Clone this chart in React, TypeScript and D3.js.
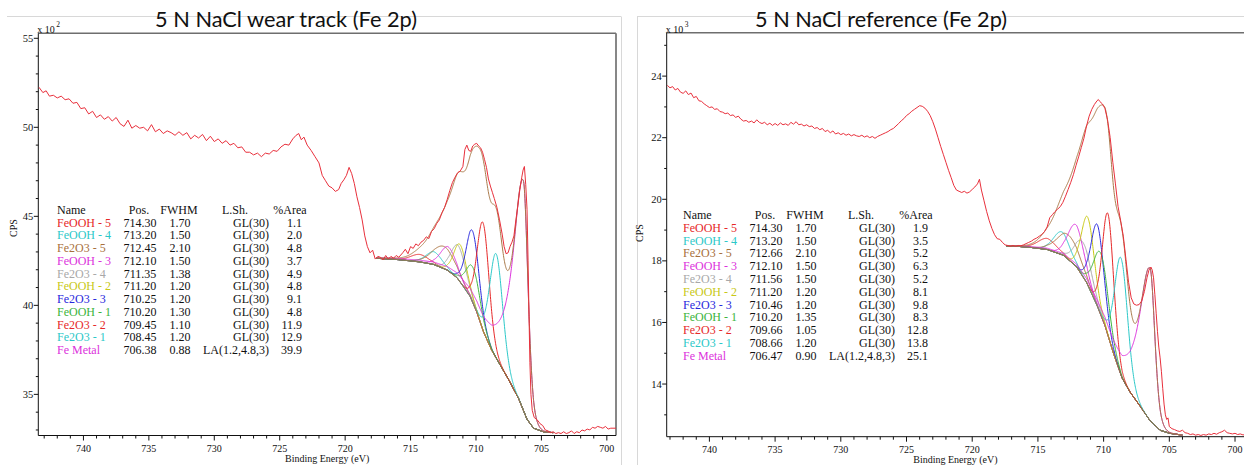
import React from "react";
import * as d3 from "d3";

// fit components, same order and colours in both tables
const peakNames = [
  "FeOOH - 5", "FeOOH - 4", "Fe2O3 - 5", "FeOOH - 3", "Fe2O3 - 4", "FeOOH - 2",
  "Fe2O3 - 3", "FeOOH - 1", "Fe2O3 - 2", "Fe2O3 - 1", "Fe Metal",
];
const peakColors = [
  "#e62828", "#2cc8c8", "#a8703c", "#dc32dc", "#a8a8a8", "#c8c814",
  "#2828dc", "#3cb43c", "#e62828", "#2cc8c8", "#dc32dc",
];
const lineShapes = [
  "GL(30)", "GL(30)", "GL(30)", "GL(30)", "GL(30)", "GL(30)",
  "GL(30)", "GL(30)", "GL(30)", "GL(30)", "LA(1.2,4.8,3)",
];

// wear track fit (CPS x 10^2)
const wearPos = [714.3, 713.2, 712.45, 712.1, 711.35, 711.2, 710.25, 710.2, 709.45, 708.45, 706.38];
const wearFwhm = [1.7, 1.5, 2.1, 1.5, 1.38, 1.2, 1.2, 1.3, 1.1, 1.2, 0.88];
const wearArea = [1.1, 2.0, 4.8, 3.7, 4.9, 4.8, 9.1, 4.8, 11.9, 12.9, 39.9];
// peak heights above background
const wearHeight = [0.42, 0.72, 1.25, 1.35, 1.9, 2.1, 4.0, 2.0, 6.05, 5.85, 12.9];

// reference fit (CPS x 10^3)
const refPos = [714.3, 713.2, 712.66, 712.1, 711.56, 711.2, 710.46, 710.2, 709.66, 708.66, 706.47];
const refFwhm = [1.7, 1.5, 2.1, 1.5, 1.5, 1.2, 1.2, 1.35, 1.05, 1.2, 0.9];
const refArea = [1.9, 3.5, 5.2, 6.3, 5.2, 8.1, 9.8, 8.3, 12.8, 13.8, 25.1];
const refHeight = [0.36, 0.74, 0.8, 1.35, 1.12, 2.2, 2.65, 2.0, 3.95, 3.8, 4.95];

// shirley backgrounds [BE, CPS]
const wearBg: [number, number][] = [
  [717.6, 42.64], [716.5, 42.6], [715.8, 42.56], [714.3, 42.44], [713.25, 42.3],
  [712.2, 41.98], [711.45, 41.55], [710.96, 41.05], [710.45, 40.5], [709.94, 39.62],
  [709.43, 38.52], [708.8, 37.48], [708.15, 36.65], [707.5, 35.82], [706.75, 34.78],
  [706.1, 33.6], [705.6, 33.1], [704.85, 32.9], [704.1, 32.85],
];
const refBg: [number, number][] = [
  [717.4, 18.48], [716.5, 18.47], [715.6, 18.44], [714.3, 18.37], [713.05, 18.18],
  [712.05, 17.8], [711.3, 17.3], [710.5, 16.55], [709.9, 15.9], [709.25, 15.0],
  [708.6, 14.2], [707.99, 13.74], [707.2, 13.27], [706.5, 12.83], [705.7, 12.5],
  [704.97, 12.4], [704.0, 12.34],
];

// measured spectra [BE, CPS]
const wearRaw: [number, number][] = [
  [743.4, 52.25], [743.1, 51.95], [742.85, 52.05], [742.6, 51.75], [742.3, 51.8], [742.0, 51.65],
  [741.7, 51.75], [741.4, 51.55], [741.1, 51.6], [740.8, 51.35], [740.5, 51.4], [740.2, 51.05],
  [739.9, 51.1], [739.6, 50.75], [739.3, 50.9], [739.0, 50.55], [738.7, 50.7], [738.4, 50.45],
  [738.1, 50.6], [737.8, 50.35], [737.5, 50.55], [737.2, 50.2], [736.9, 50.05], [736.6, 50.4],
  [736.3, 49.95], [736.0, 50.1], [735.7, 49.95], [735.4, 50.0], [735.1, 49.8], [734.8, 50.15],
  [734.5, 49.75], [734.2, 49.9], [733.9, 49.65], [733.6, 49.8], [733.3, 49.7], [733.0, 49.55],
  [732.7, 49.75], [732.4, 49.55], [732.1, 49.7], [731.8, 49.35], [731.5, 49.55], [731.2, 49.4],
  [730.9, 49.6], [730.6, 49.25], [730.3, 49.5], [730.0, 49.2], [729.7, 49.35], [729.4, 49.1],
  [729.1, 49.25], [728.8, 49.0], [728.5, 49.1], [728.2, 48.85], [727.9, 48.9], [727.6, 48.6],
  [727.3, 48.6], [727.0, 48.45], [726.7, 48.55], [726.4, 48.35], [726.1, 48.55], [725.8, 48.5],
  [725.5, 48.7], [725.2, 48.65], [724.9, 48.9], [724.6, 49.05], [724.3, 49.0], [724.0, 49.35],
  [723.75, 49.55], [723.55, 49.65], [723.35, 49.3], [723.15, 49.45], [722.9, 49.0], [722.6, 48.7],
  [722.3, 48.35], [722.0, 48.0], [721.75, 47.3], [721.5, 47.0], [721.25, 46.7], [721.0, 46.6],
  [720.75, 46.4], [720.5, 46.5], [720.3, 46.85], [720.1, 47.05], [719.9, 47.3], [719.7, 47.75],
  [719.5, 47.4], [719.3, 46.85], [719.1, 46.1], [718.9, 45.5], [718.7, 44.8], [718.5, 43.9],
  [718.3, 43.3], [718.1, 42.95], [717.9, 43.1], [717.7, 42.6], [717.5, 42.75], [717.3, 42.7],
  [717.1, 42.55], [716.9, 42.8], [716.7, 42.6], [716.5, 42.75], [716.3, 42.65], [716.1, 42.8],
  [715.9, 42.7], [715.6, 42.95], [715.4, 43.15], [715.2, 42.9], [715.0, 43.3], [714.8, 43.2],
  [714.6, 43.45], [714.4, 43.35], [714.2, 43.55], [714.0, 43.65], [713.8, 43.85], [713.6, 43.75],
  [713.4, 44.15], [713.2, 44.3], [713.0, 44.6], [712.8, 44.8], [712.6, 45.2], [712.4, 45.5],
  [712.2, 45.95], [712.0, 46.45], [711.8, 46.9], [711.6, 47.2], [711.4, 47.45], [711.2, 47.55],
  [711.0, 47.8], [710.85, 48.75], [710.7, 49.0], [710.55, 48.7], [710.4, 48.65], [710.25, 48.95],
  [710.1, 49.05], [709.95, 49.1], [709.8, 48.95], [709.65, 48.85], [709.5, 48.6], [709.35, 48.2],
  [709.2, 47.75], [709.05, 47.1], [708.9, 46.7], [708.75, 46.35], [708.6, 46.0], [708.4, 45.5],
  [708.2, 44.8], [708.0, 44.0], [707.85, 43.3], [707.7, 42.9], [707.55, 42.95], [707.4, 43.3],
  [707.25, 43.55], [707.1, 43.9], [706.95, 44.8], [706.8, 45.6], [706.65, 46.5], [706.5, 47.2],
  [706.4, 47.6], [706.3, 47.8], [706.2, 46.8], [706.1, 45.4], [706.02, 42.5], [705.95, 39.5],
  [705.88, 36.8], [705.8, 35.0], [705.7, 34.1], [705.55, 33.7], [705.3, 33.55], [705.1, 33.35],
  [704.9, 33.25], [704.7, 33.0], [704.5, 32.95], [704.3, 32.85], [704.1, 32.9], [703.9, 32.8],
  [703.7, 32.85], [703.5, 32.8], [703.3, 32.9], [703.1, 32.8], [702.9, 32.85], [702.7, 32.95],
  [702.5, 32.8], [702.3, 32.9], [702.1, 32.85], [701.9, 33.0], [701.7, 32.95], [701.5, 33.05],
  [701.3, 33.0], [701.1, 33.15], [700.9, 33.1], [700.7, 33.2], [700.5, 33.15], [700.3, 33.1],
  [700.1, 33.2], [699.9, 33.05], [699.7, 33.1], [699.3, 33.1],
];
const refRaw: [number, number][] = [
  [743.2, 23.7], [743.0, 23.62], [742.8, 23.66], [742.6, 23.55], [742.4, 23.6], [742.2, 23.48],
  [742.0, 23.44], [741.8, 23.52], [741.6, 23.4], [741.4, 23.45], [741.2, 23.3], [741.0, 23.34],
  [740.8, 23.2], [740.6, 23.18], [740.4, 23.1], [740.2, 23.04], [740.0, 22.98], [739.8, 23.0],
  [739.6, 22.92], [739.4, 22.94], [739.2, 22.85], [739.0, 22.83], [738.8, 22.78], [738.6, 22.8],
  [738.4, 22.72], [738.2, 22.74], [738.0, 22.66], [737.8, 22.7], [737.6, 22.6], [737.4, 22.54],
  [737.2, 22.56], [737.0, 22.5], [736.8, 22.54], [736.6, 22.48], [736.4, 22.58], [736.2, 22.5],
  [736.0, 22.46], [735.8, 22.5], [735.6, 22.42], [735.4, 22.47], [735.2, 22.4], [735.0, 22.46],
  [734.8, 22.4], [734.6, 22.48], [734.4, 22.42], [734.2, 22.45], [734.0, 22.4], [733.8, 22.5],
  [733.6, 22.44], [733.4, 22.52], [733.2, 22.42], [733.0, 22.44], [732.8, 22.38], [732.6, 22.42],
  [732.4, 22.36], [732.2, 22.38], [732.0, 22.3], [731.8, 22.33], [731.6, 22.26], [731.4, 22.3],
  [731.2, 22.2], [731.0, 22.24], [730.8, 22.16], [730.6, 22.22], [730.4, 22.12], [730.2, 22.16],
  [730.0, 22.1], [729.8, 22.14], [729.6, 22.08], [729.4, 22.12], [729.2, 22.06], [729.0, 22.1],
  [728.8, 22.06], [728.6, 22.04], [728.4, 22.08], [728.2, 22.02], [728.0, 22.06], [727.8, 22.0],
  [727.6, 22.04], [727.4, 21.98], [727.2, 22.04], [727.0, 22.08], [726.8, 22.12], [726.6, 22.16],
  [726.4, 22.2], [726.2, 22.26], [726.0, 22.3], [725.8, 22.38], [725.6, 22.46], [725.4, 22.55],
  [725.2, 22.62], [725.0, 22.72], [724.8, 22.78], [724.6, 22.86], [724.4, 22.92], [724.2, 22.98],
  [724.0, 23.04], [723.8, 23.02], [723.6, 22.96], [723.4, 22.86], [723.2, 22.72], [723.0, 22.52],
  [722.8, 22.28], [722.6, 22.0], [722.4, 21.72], [722.2, 21.46], [722.0, 21.2], [721.8, 20.94],
  [721.6, 20.7], [721.4, 20.45], [721.2, 20.3], [721.0, 20.26], [720.8, 20.22], [720.6, 20.26],
  [720.4, 20.2], [720.2, 20.24], [720.0, 20.32], [719.8, 20.4], [719.6, 20.5], [719.45, 20.65],
  [719.3, 20.3], [719.1, 19.95], [718.9, 19.6], [718.7, 19.3], [718.5, 19.05], [718.3, 18.85],
  [718.1, 18.72], [717.9, 18.7], [717.7, 18.6], [717.5, 18.52], [717.3, 18.5], [717.1, 18.47],
  [716.9, 18.5], [716.7, 18.47], [716.5, 18.5], [716.3, 18.49], [716.1, 18.52], [715.9, 18.56],
  [715.7, 18.6], [715.5, 18.64], [715.3, 18.7], [715.1, 18.74], [714.9, 18.8], [714.7, 18.86],
  [714.5, 18.95], [714.3, 19.1], [714.1, 19.4], [713.9, 19.5], [713.7, 19.6], [713.5, 19.68],
  [713.3, 19.76], [713.1, 19.9], [712.9, 20.1], [712.7, 20.32], [712.5, 20.55], [712.3, 20.8],
  [712.1, 21.1], [711.9, 21.38], [711.7, 21.68], [711.5, 21.98], [711.3, 22.38], [711.1, 22.7],
  [710.9, 22.92], [710.7, 23.08], [710.5, 23.2], [710.4, 23.24], [710.3, 23.18], [710.1, 23.1],
  [709.9, 22.95], [709.7, 22.58], [709.5, 22.0], [709.3, 21.2], [709.1, 20.5], [708.9, 19.76],
  [708.7, 19.3], [708.5, 18.8], [708.3, 18.05], [708.1, 17.3], [707.9, 16.8], [707.7, 16.6],
  [707.5, 16.56], [707.3, 16.58], [707.1, 16.7], [706.9, 17.0], [706.7, 17.45], [706.55, 17.7],
  [706.4, 17.8], [706.3, 17.7], [706.2, 17.45], [706.1, 16.9], [706.0, 16.3], [705.9, 15.7],
  [705.8, 15.2], [705.7, 14.85], [705.6, 14.4], [705.5, 13.85], [705.4, 13.35], [705.3, 13.0],
  [705.2, 12.85], [705.1, 12.9], [705.0, 12.62], [704.8, 12.55], [704.6, 12.52], [704.4, 12.48],
  [704.2, 12.46], [704.0, 12.5], [703.8, 12.42], [703.6, 12.4], [703.4, 12.36], [703.2, 12.38],
  [703.0, 12.34], [702.8, 12.36], [702.6, 12.33], [702.4, 12.36], [702.2, 12.34], [702.0, 12.38],
  [701.8, 12.36], [701.6, 12.4], [701.4, 12.37], [701.2, 12.42], [701.0, 12.45], [700.8, 12.5],
  [700.6, 12.42], [700.4, 12.4], [700.2, 12.38], [700.0, 12.4], [699.8, 12.36], [699.6, 12.38],
  [699.4, 12.35], [698.8, 12.36],
];

const xMajor = [740, 735, 730, 725, 720, 715, 710, 705, 700];
const wearYMajor = [35, 40, 45, 50, 55];
const refYMajor = [14, 16, 18, 20, 22, 24];

const serif = "'Liberation Serif', 'Times New Roman', serif";

// CasaXPS style line shapes
const shape = (e: number, pos: number, fwhm: number, lsh: string, tail: number) => {
  const d = e - pos;
  const gl = /GL\((\d+)\)/.exec(lsh);
  if (gl) {
    const m = +gl[1] / 100;
    const t = (d / fwhm) ** 2;
    return Math.exp(-4 * Math.LN2 * (1 - m) * t) / (1 + 4 * m * t);
  }
  const la = /LA\(([\d.]+),([\d.]+)/.exec(lsh)!;
  const t = (d / tail) ** 2;
  return Math.pow(1 + 4 * t, -(d > 0 ? +la[1] : +la[2]));
};

const panels = [
  {
    id: "wear", title: "5 N NaCl wear track (Fe 2p)", titleX: 286, titleLen: 262, exp: "2",
    left: 38.3, right: 616, top: 33.3, bottom: 435.5, xDomain: [743.45, 699.3], yDomain: [32.69, 55.28],
    yMajor: wearYMajor, yMinorStep: 1, raw: wearRaw, bg: wearBg, pos: wearPos, fwhm: wearFwhm,
    area: wearArea, height: wearHeight, tail: 2.1, tableX: 57, tableY: 214, rowH: 12.73, cpsX: 17, cpsY: 228,
  },
  {
    id: "ref", title: "5 N NaCl reference (Fe 2p)", titleX: 881, titleLen: 252, exp: "3",
    left: 666.7, right: 1250, top: 32.7, bottom: 436.7, xDomain: [743.25, 698.86], yDomain: [12.29, 25.41],
    yMajor: refYMajor, yMinorStep: 1, raw: refRaw, bg: refBg, pos: refPos, fwhm: refFwhm,
    area: refArea, height: refHeight, tail: 2.15, tableX: 683, tableY: 219, rowH: 12.8, cpsX: 643, cpsY: 233,
  },
];

type P = (typeof panels)[number];

const Panel = ({ p }: { p: P }) => {
  const x = d3.scaleLinear().domain(p.xDomain).range([p.left, p.right]);
  const y = d3.scaleLinear().domain(p.yDomain).range([p.bottom, p.top]);
  const line = d3.line<[number, number]>().x((d) => x(d[0])).y((d) => y(d[1]));

  const bgSorted = [...p.bg].sort((a, b) => a[0] - b[0]);
  const bgAt = d3.scaleLinear().domain(bgSorted.map((d) => d[0])).range(bgSorted.map((d) => d[1]));
  const lo = bgSorted[0][0];
  const hi = bgSorted[bgSorted.length - 1][0];
  const grid = d3.range(lo, hi + 1e-6, 0.02);

  const comps = p.pos.map((pos, i) =>
    grid.map((e) => [e, bgAt(e) + p.height[i] * shape(e, pos, p.fwhm[i], lineShapes[i], p.tail)] as [number, number])
  );
  const envelope = grid.map((e, k) => [e, bgAt(e) + d3.sum(comps, (c) => c[k][1] - bgAt(e))] as [number, number]);
  const bgLine = grid.map((e) => [e, bgAt(e)] as [number, number]);

  const [ymin, ymax] = p.yDomain;
  const yMinor = d3.range(Math.ceil(ymin), Math.floor(ymax) + 1, p.yMinorStep).filter((v) => !p.yMajor.includes(v));
  const [xa, xb] = [Math.min(...p.xDomain), Math.max(...p.xDomain)];
  const xMinor = d3.range(Math.ceil(xa), Math.floor(xb) + 1).filter((v) => !xMajor.includes(v));
  const clip = `clip-${p.id}`;
  const nx = p.tableX;

  return (
    <g>
      <text x={p.titleX} y={27} textAnchor="middle" fontFamily="Lato, 'Open Sans', sans-serif" fontSize={22}
        textLength={p.titleLen} lengthAdjust="spacingAndGlyphs" fill="#111">{p.title}</text>

      <defs>
        <clipPath id={clip}>
          <rect x={p.left} y={p.top} width={p.right - p.left} height={p.bottom - p.top} />
        </clipPath>
      </defs>

      {/* frame */}
      <line x1={p.left} x2={p.right} y1={p.top} y2={p.top} stroke="#6e6e6e" strokeWidth={1.6} />
      <line x1={p.right} x2={p.right} y1={p.top} y2={p.bottom} stroke="#7a7a7a" strokeWidth={1.8} />
      <line x1={p.left} x2={p.left} y1={p.top} y2={p.bottom} stroke="#111" />
      <line x1={p.left} x2={p.right} y1={p.bottom} y2={p.bottom} stroke="#111" />

      {/* y axis */}
      {p.yMajor.map((v) => (
        <g key={"ym" + v}>
          <line x1={p.left - 4.5} x2={p.left} y1={y(v)} y2={y(v)} stroke="#111" />
          <text x={p.left - 5} y={y(v) + 3.5} textAnchor="end" fontFamily={serif} fontSize={10.5} fill="#111">{v}</text>
        </g>
      ))}
      {yMinor.map((v) => (
        <line key={"yn" + v} x1={p.left - 2.5} x2={p.left} y1={y(v)} y2={y(v)} stroke="#111" />
      ))}
      <text x={p.left - 1} y={p.top} fontFamily={serif} fontSize={10} fill="#111">x 10</text>
      <text x={p.left + 18} y={p.top - 6} fontFamily={serif} fontSize={7.5} fill="#111">{p.exp}</text>
      <text transform={`translate(${p.cpsX},${p.cpsY}) rotate(-90)`} textAnchor="middle" fontFamily={serif}
        fontSize={10} fill="#111">CPS</text>

      {/* x axis */}
      {xMajor.filter((v) => v >= xa && v <= xb).map((v) => (
        <g key={"xm" + v}>
          <line x1={x(v)} x2={x(v)} y1={p.bottom} y2={p.bottom + 5} stroke="#111" />
          <text x={x(v)} y={p.bottom + 16} textAnchor="middle" fontFamily={serif} fontSize={10} fill="#111">{v}</text>
        </g>
      ))}
      {xMinor.map((v) => (
        <line key={"xn" + v} x1={x(v)} x2={x(v)} y1={p.bottom} y2={p.bottom + 3} stroke="#111" />
      ))}
      <text x={(p.left + Math.min(p.right, 1244)) / 2} y={p.bottom + 26}
        textAnchor="middle" fontFamily={serif} fontSize={10} fill="#111">Binding Energy (eV)</text>

      {/* fit */}
      <g clipPath={`url(#${clip})`} fill="none" strokeWidth={1}>
        {comps.map((c, i) => (
          <path key={"c" + i} d={line(c) ?? ""} stroke={peakColors[i]} />
        ))}
        <path d={line(bgLine) ?? ""} stroke="#a8703c" />
        <path d={line(envelope) ?? ""} stroke="#a87848" />
        <path d={line(p.raw) ?? ""} stroke="#e8303c" />
      </g>

      {/* peak table */}
      <g fontFamily={serif} fontSize={12} fill="#111">
        <text x={nx} y={p.tableY}>Name</text>
        <text x={nx + 82} y={p.tableY} textAnchor="middle">Pos.</text>
        <text x={nx + 122} y={p.tableY} textAnchor="middle">FWHM</text>
        <text x={nx + 178} y={p.tableY} textAnchor="middle">L.Sh.</text>
        <text x={nx + 233} y={p.tableY} textAnchor="middle">%Area</text>
        {peakNames.map((n, i) => {
          const ty = p.tableY + (i + 1) * p.rowH;
          return (
            <g key={"r" + i}>
              <text x={nx} y={ty} fill={peakColors[i]}>{n}</text>
              <text x={nx + 83} y={ty} textAnchor="middle">{p.pos[i].toFixed(2)}</text>
              <text x={nx + 123} y={ty} textAnchor="middle">{p.fwhm[i].toFixed(2)}</text>
              <text x={nx + 212} y={ty} textAnchor="end">{lineShapes[i]}</text>
              <text x={nx + 245} y={ty} textAnchor="end">{p.area[i].toFixed(1)}</text>
            </g>
          );
        })}
      </g>
    </g>
  );
};

export default function App() {
  return (
    <svg width={1244} height={465} style={{ position: "absolute", left: 0, top: 0, background: "#fff" }}>
      <rect width={1244} height={465} fill="#fff" />
      {/* slide picture borders */}
      <g stroke="#d8d8d8" strokeWidth={1}>
        <line x1={7} x2={621} y1={16.5} y2={16.5} />
        <line x1={621.5} x2={621.5} y1={16.5} y2={465} />
        <line x1={637} x2={1244} y1={16.5} y2={16.5} />
        <line x1={637.5} x2={637.5} y1={16.5} y2={465} />
      </g>
      {panels.map((p) => (
        <Panel key={p.id} p={p} />
      ))}
    </svg>
  );
}
